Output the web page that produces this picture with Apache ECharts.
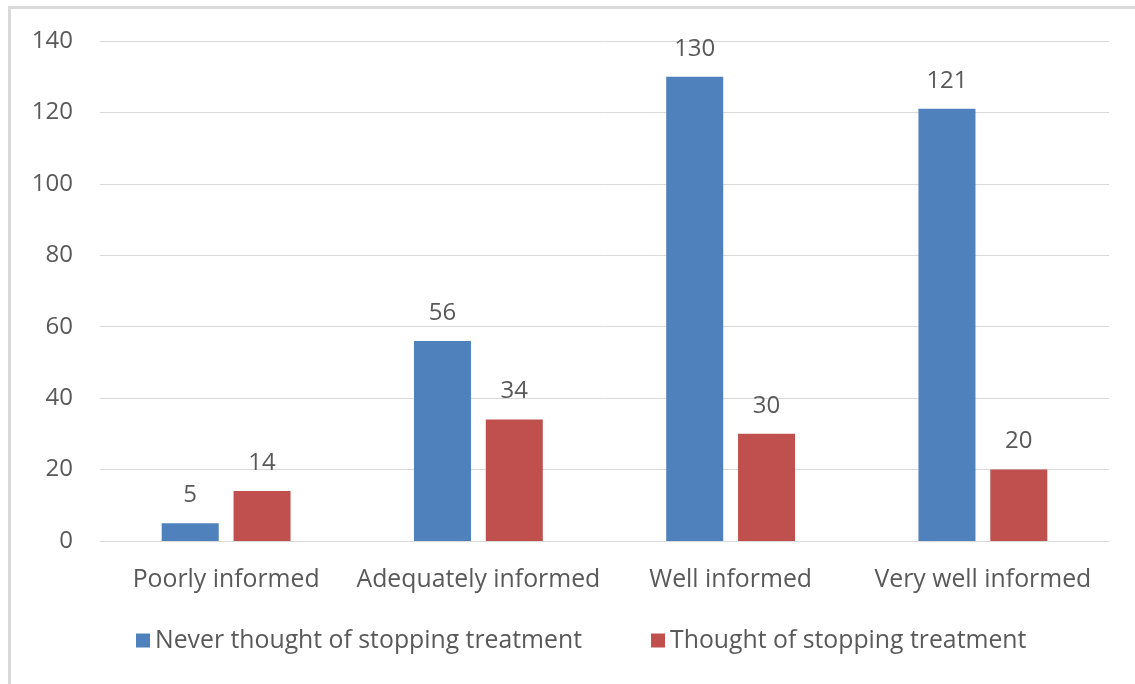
<!DOCTYPE html>
<html>
<head>
<meta charset="utf-8">
<script src="https://cdn.jsdelivr.net/npm/echarts@6/dist/echarts.min.js"></script>
<style>
  html, body { margin: 0; padding: 0; background: #fff; }
  #chart { width: 1135px; height: 684px; }
</style>
</head>
<body>
<div id="chart"></div>
<script>
// Information level vs. thoughts of stopping treatment
const categories = ['Poorly informed', 'Adequately informed', 'Well informed', 'Very well informed'];
const neverThought = [5, 56, 130, 121];
const thoughtOf = [14, 34, 30, 20];
const seriesNames = ['Never thought of stopping treatment', 'Thought of stopping treatment'];

const FONT = 'Open Sans';
const TEXT = '#595959';

const chart = echarts.init(document.getElementById('chart'));

const labelStyle = {
  show: true,
  position: 'top',
  distance: 16,
  color: TEXT,
  fontFamily: FONT,
  fontSize: 24
};

chart.setOption({
  animation: false,
  backgroundColor: '#fff',
  graphic: [
    { type: 'rect', left: 8, top: 6, shape: { width: 3, height: 690 }, style: { fill: '#d9d9d9' } },
    { type: 'rect', left: 8, top: 6, shape: { width: 1130, height: 3 }, style: { fill: '#d9d9d9' } }
  ],
  grid: { left: 100, right: 26, top: 41, bottom: 143 },
  legend: {
    left: 136,
    top: 628,
    padding: 0,
    icon: 'rect',
    itemWidth: 14,
    itemHeight: 14,
    itemGap: 69,
    textStyle: { color: TEXT, fontFamily: FONT, fontSize: 24.8 },
    data: seriesNames
  },
  xAxis: {
    type: 'category',
    data: categories,
    axisLine: { show: true, lineStyle: { color: '#d9d9d9', width: 1 } },
    axisTick: { show: false },
    axisLabel: { color: TEXT, fontFamily: FONT, fontSize: 24.8, margin: 26, interval: 0 }
  },
  yAxis: {
    type: 'value',
    min: 0,
    max: 140,
    interval: 20,
    axisLine: { show: false },
    axisTick: { show: false },
    splitLine: { lineStyle: { color: '#d9d9d9', width: 1 } },
    axisLabel: { color: TEXT, fontFamily: FONT, fontSize: 24, margin: 27 }
  },
  series: [
    {
      name: seriesNames[0],
      type: 'bar',
      data: neverThought,
      barWidth: '22.6%',
      barGap: '26%',
      itemStyle: { color: '#4F81BD' },
      label: labelStyle
    },
    {
      name: seriesNames[1],
      type: 'bar',
      data: thoughtOf,
      barWidth: '22.6%',
      itemStyle: { color: '#C0504D' },
      label: labelStyle
    }
  ]
});
</script>
</body>
</html>
